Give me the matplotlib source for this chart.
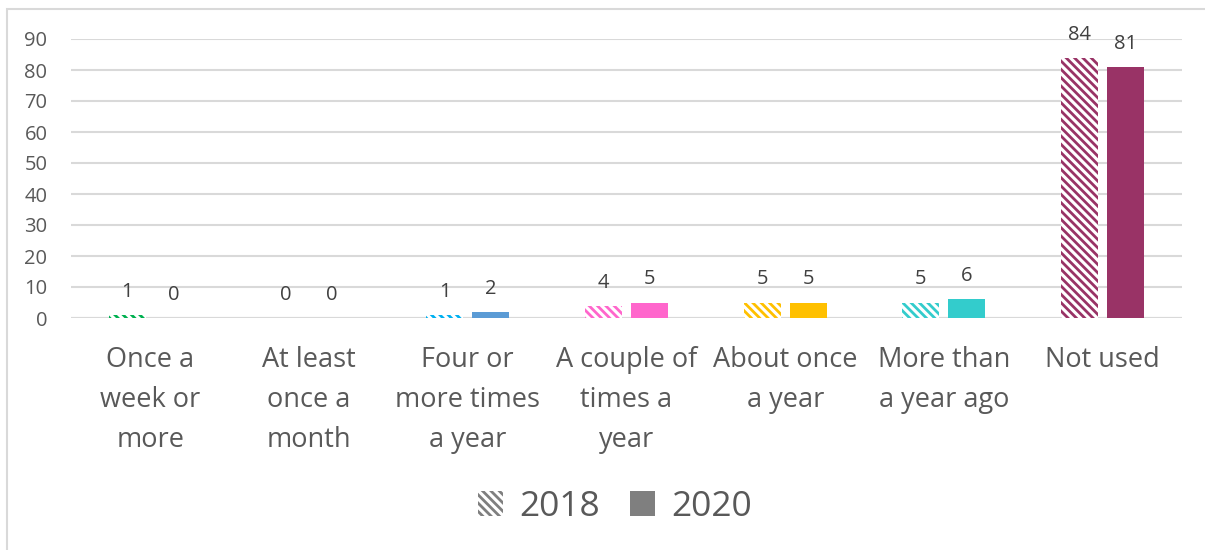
import matplotlib.pyplot as plt
import numpy as np
from matplotlib.patches import Patch, Rectangle

plt.rcParams['font.family'] = ['Open Sans', 'DejaVu Sans']
plt.rcParams['hatch.linewidth'] = 2.0

categories = ['Once a\nweek or\nmore', 'At least\nonce a\nmonth', 'Four or\nmore times\na year',
              'A couple of\ntimes a\nyear', 'About once\na year', 'More than\na year ago', 'Not used']
vals_2018 = [1, 0, 1, 4, 5, 5, 84]
vals_2020 = [0, 0, 2, 5, 5, 6, 81]
colors_2018 = ['#00B050', '#00B050', '#00B0F0', '#FF66CC', '#FFC000', '#33CCCC', '#993366']
colors_2020 = ['#00B050', '#00B050', '#5B9BD5', '#FF66CC', '#FFC000', '#33CCCC', '#993366']

txt = '#595959'
lbl = '#404040'
grid = '#D9D9D9'
hatch = '\\\\\\\\'

fig = plt.figure(figsize=(12.05, 5.5), dpi=100)
ax = fig.add_axes([71/1205, 1-318/550, (1182-71)/1205, (318-39)/550])

x = np.arange(len(categories))
w = 0.233
off = 0.145

# 2018 bars are hatched, 2020 bars are solid
for i in range(len(categories)):
    ax.bar(x[i]-off, vals_2018[i], w, facecolor='white', edgecolor=colors_2018[i],
           hatch=hatch, linewidth=0, zorder=2)
    ax.bar(x[i]+off, vals_2020[i], w, color=colors_2020[i], linewidth=0, zorder=2)
    ax.annotate(str(vals_2018[i]), (x[i]-off, vals_2018[i]), xytext=(0, 13),
                textcoords='offset points', ha='center', va='baseline',
                fontsize=14.5, color=lbl)
    ax.annotate(str(vals_2020[i]), (x[i]+off, vals_2020[i]), xytext=(0, 13),
                textcoords='offset points', ha='center', va='baseline',
                fontsize=14.5, color=lbl)

ax.set_xlim(-0.5, len(categories)-0.5)
ax.set_ylim(0, 90)
ax.set_yticks(range(0, 91, 10))
ax.yaxis.grid(True, color=grid, linewidth=1.5, zorder=0)
ax.set_axisbelow(True)
for s in ax.spines.values():
    s.set_visible(False)
ax.axhline(0, color=grid, linewidth=1.5, zorder=1)
ax.tick_params(axis='y', length=0, pad=17, labelsize=14.5, labelcolor=txt)
ax.tick_params(axis='x', length=0, pad=20.5, labelsize=19.5, labelcolor=txt)
ax.set_xticks(x)
ax.set_xticklabels(categories, linespacing=1.57)

handles = [Patch(facecolor='white', edgecolor='#7F7F7F', hatch=hatch, linewidth=0),
           Patch(facecolor='#7F7F7F', linewidth=0)]
leg = fig.legend(handles, ['2018', '2020'], loc='center', bbox_to_anchor=(615/1205, 1-507/550),
                 ncol=2, frameon=False, fontsize=25.5, handlelength=0.7, handleheight=0.7,
                 handletextpad=0.45, columnspacing=0.85)
for t in leg.get_texts():
    t.set_color(txt)

# chart border
fig.patches.append(Rectangle((7/1205, -0.1), 1.1, 1-9/550+0.1, transform=fig.transFigure,
                             fill=False, edgecolor=grid, linewidth=1.5))

fig.savefig('out.png', dpi=100)
